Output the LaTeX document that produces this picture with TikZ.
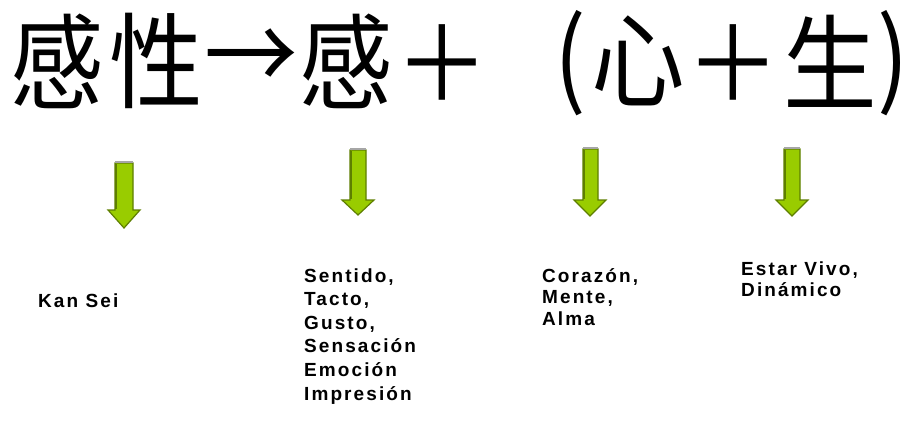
\documentclass[tikz,border=0pt]{standalone}
\usepackage{fontspec}
\newfontfamily\cjkfont{Noto Sans CJK SC}
\newfontfamily\labfont{Liberation Sans}[LetterSpace=11]
\begin{document}
\begin{tikzpicture}[x=1pt,y=-1pt,
  hanzi/.style={inner sep=0pt, font=\cjkfont\fontsize{104}{104}\selectfont, xscale=0.9},
  garrow/.style={fill=arrowgreen, draw=arrowdark, line width=1.2pt, line join=miter},
  gedge/.style={draw=arrowdark, line width=2.5pt},
  gtop/.style={draw=gray!70, line width=1.5pt},
  lab/.style={inner sep=0pt, anchor=base west, align=left, font=\labfont\bfseries\fontsize{19}{22}\selectfont}]
\definecolor{arrowgreen}{HTML}{99CC00}
\definecolor{arrowdark}{HTML}{5E7F00}
\useasboundingbox[fill=white] (0,0) rectangle (912,423);
% header
\node[hanzi] (c1) at (57,61) {感};
\node[hanzi] (c2) at (156,61) {性};
\node[hanzi] (c3) at (251,61) {→};
\node[hanzi] (c4) at (346,61) {感};
\node[hanzi] (c5) at (442,63) {＋};
\node[hanzi] (c6) at (570,63) {(};
\node[hanzi] (c7) at (638,61) {心};
\node[hanzi] (c8) at (733,63) {＋};
\node[hanzi] (c9) at (830,61) {生};
\node[hanzi] (c10) at (893,63) {)};
% green arrows
\draw[garrow] (115,163) -- (133,163) -- (133,210) -- (140,210) -- (124,228) -- (108,210) -- (115,210) -- cycle;
\draw[gedge] (116,164) -- (116,209);
\draw[gtop] (115,162) -- (133,162);
\draw[garrow] (350,150) -- (366,150) -- (366,200) -- (374,200) -- (358,215) -- (342,200) -- (350,200) -- cycle;
\draw[gedge] (351,151) -- (351,199);
\draw[gtop] (350,149) -- (366,149);
\draw[garrow] (583,149) -- (598,149) -- (598,200) -- (606,200) -- (590,216) -- (574,200) -- (583,200) -- cycle;
\draw[gedge] (584,150) -- (584,199);
\draw[gtop] (583,148) -- (598,148);
\draw[garrow] (784,149) -- (800,149) -- (800,200) -- (808,200) -- (792,216) -- (776,200) -- (784,200) -- cycle;
\draw[gedge] (785,150) -- (785,199);
\draw[gtop] (784,148) -- (800,148);
% labels
\node[lab] (t1) at (38,307) {Kan Sei};
\node[lab] (t2a) at (304,282) {Sentido,};
\node[lab] (t2b) at (304,305.6) {Tacto,};
\node[lab] (t2c) at (304,329.2) {Gusto,};
\node[lab] (t2d) at (304,352.8) {Sensación};
\node[lab] (t2e) at (304,376.4) {Emoción};
\node[lab] (t2f) at (304,400) {Impresión};
\node[lab] (t3a) at (542,282) {Corazón,};
\node[lab] (t3b) at (542,303.5) {Mente,};
\node[lab] (t3c) at (542,325) {Alma};
\node[lab] (t4a) at (741,275) {Estar Vivo,};
\node[lab] (t4b) at (741,296) {Dinámico};
\end{tikzpicture}
\end{document}
